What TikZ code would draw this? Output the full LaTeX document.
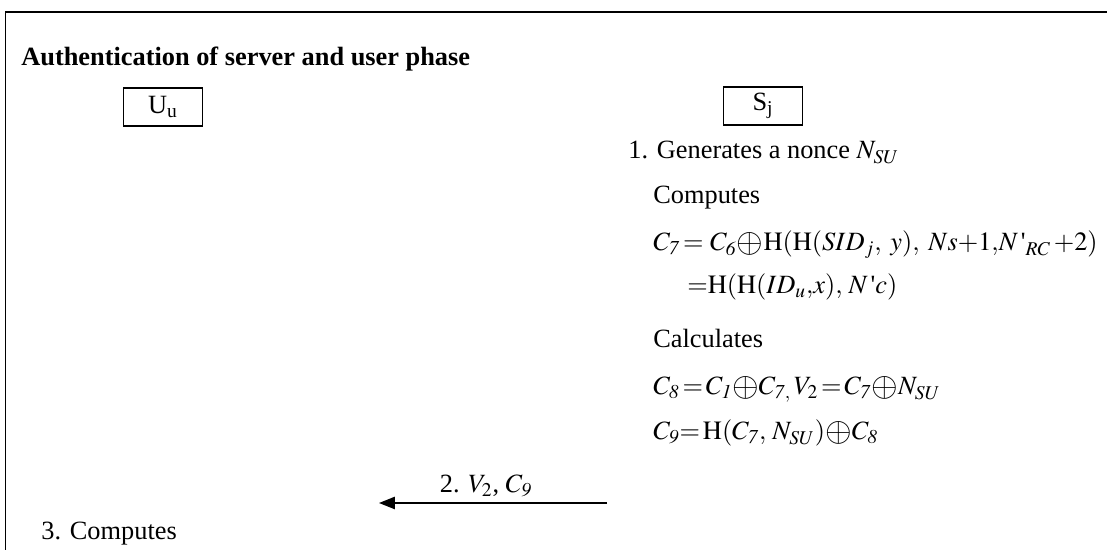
\documentclass[tikz,border=0pt]{standalone}
\usepackage{mathptmx}
\usepackage{graphicx}
\usepackage{fontspec}
\setmainfont{Liberation Serif}
\usetikzlibrary{arrows.meta}
\newcommand{\Cn}[1]{C_{\mathit{#1}}}
\newcommand{\Nsu}{N_{SU}}
\newcommand{\xorop}{\mathord{\raisebox{-0.12ex}{\scalebox{1.3}{$\oplus$}}}}
\newcommand{\apos}{\mbox{\textquotesingle}}

\begin{document}
\begin{tikzpicture}[
  x=0.02cm, y=-0.02cm,
  every node/.style={font=\fontsize{15}{18}\selectfont, inner sep=0pt},
  party/.style={draw, line width=0.9pt, minimum width=1.58cm, minimum height=0.76cm},
  >={Triangle[length=9pt,width=7pt]}
]
\useasboundingbox (0,0) rectangle (1107,550);

% ── Frame: open at the right and at the bottom ─────────────────────────────
\draw[line width=1.1pt] (5.5,550) -- (5.5,12) -- (1107,12);

% ── Heading ───────────────────────────────────────────────────────────────
\node[anchor=base west, font=\fontsize{15}{18}\selectfont\bfseries] (title)
  at (21,66) {Authentication of server and user phase};

% ── Parties ───────────────────────────────────────────────────────────────
\node[party] (user) at (163,107) {U\textsubscript{u}};
\node[party] (server) at (763,106) {S\textsubscript{j}};

% ── Server side computations ─────────────────────────────────────────────
\node[anchor=base west] (nonce) at (628,159) {1. Generates a nonce $\Nsu$};
\node[anchor=base west] (comp) at (653,204) {Computes};
\node[anchor=base west] (cseven) at (653,251)
  {$\Cn{7}{\,=}\ \Cn{6}\xorop\mathrm{H}(\mathrm{H}(SID_j,\;y),\;Ns{+}1{,}N\,\apos_{RC}\,{+}2)$};
\node[anchor=base west] (csevenb) at (687,294)
  {${=}\mathrm{H}(\mathrm{H}(ID_u{,}x),\,N\,\apos c)$};
\node[anchor=base west] (calc) at (653,348) {Calculates};
\node[anchor=base west] (ceight) at (653,395)
  {$\Cn{8}{\,=\,}\Cn{1}\xorop\Cn{7,}\,V_2{\,=\,}\Cn{7}\xorop\Nsu$};
\node[anchor=base west] (cnine) at (653,440)
  {$\Cn{9}{=}\,\mathrm{H}(\Cn{7},\,\Nsu)\xorop\Cn{8}$};

% ── Message from server to user ──────────────────────────────────────────
\coordinate (msgfrom) at (607,503);
\coordinate (msgto) at (379,503);
\draw[->, line width=0.75pt] (msgfrom) -- (msgto);
\node[anchor=base] (msg) at (486,493) {2. $V_2$, $\Cn{9}$};

% ── User side ────────────────────────────────────────────────────────────
\node[anchor=base west] (ucomp) at (41,540) {3. Computes};

\end{tikzpicture}
\end{document}
